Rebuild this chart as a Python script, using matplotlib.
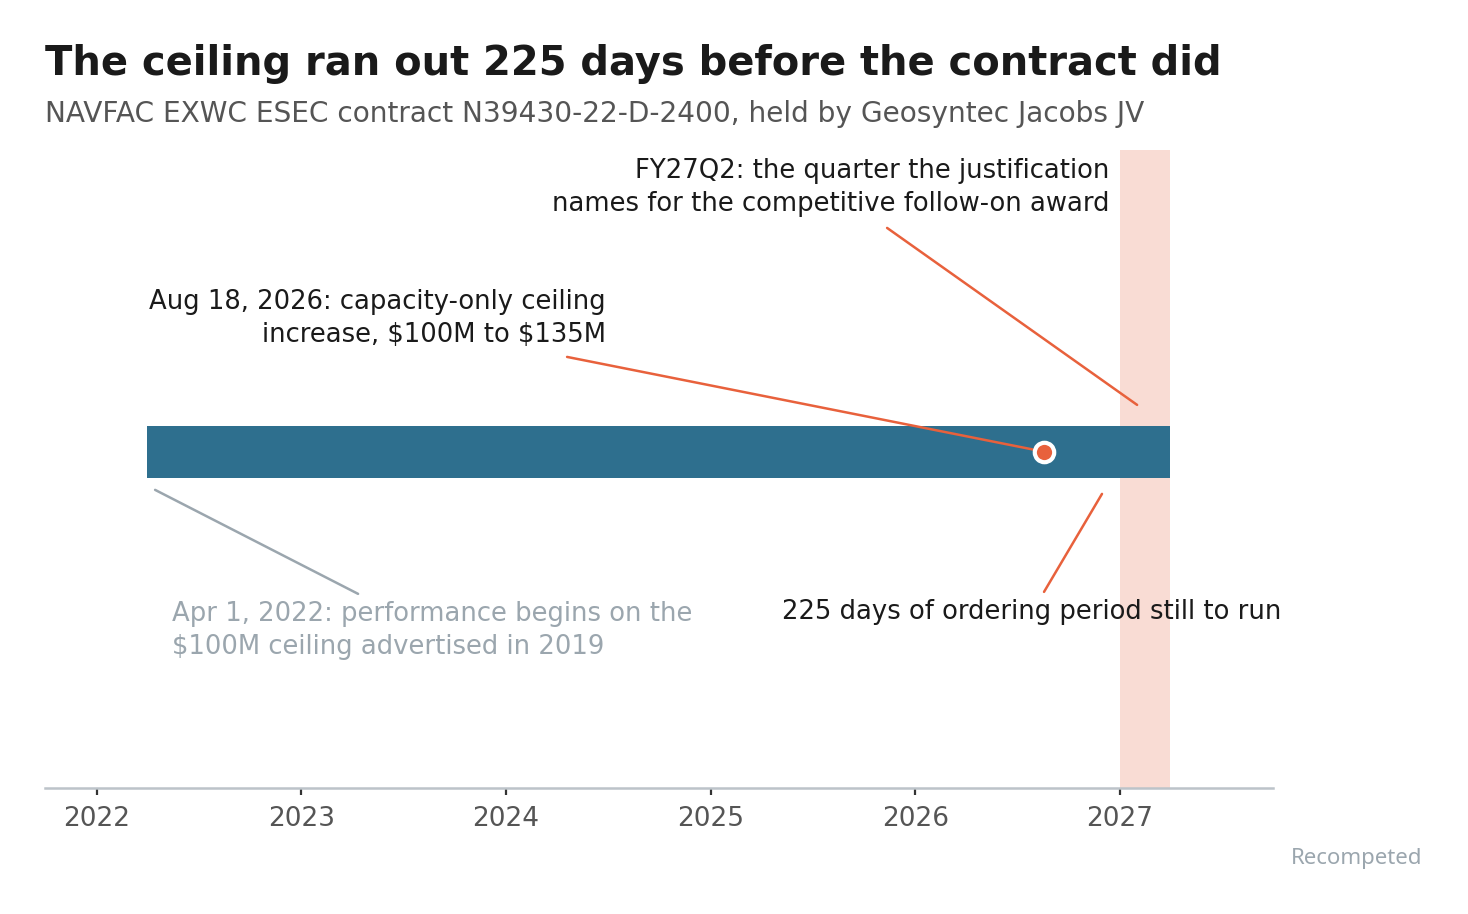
import datetime as dt
import matplotlib
matplotlib.use('Agg')
import matplotlib.pyplot as plt
import matplotlib.dates as mdates

plt.rcParams['font.family'] = ['DejaVu Sans']

# contract timeline
perf_start = dt.date(2022, 4, 1)
ceiling_hit = dt.date(2026, 8, 18)
order_end = dt.date(2027, 3, 31)
fy27q2 = (dt.date(2027, 1, 1), dt.date(2027, 3, 31))
days_left = (order_end - ceiling_hit).days
years = [2022, 2023, 2024, 2025, 2026, 2027]

blue = '#2e6f8e'
orange = '#e8613c'
pink = '#f9dcd4'
gray = '#9ba6ae'

fig = plt.figure(figsize=(7.34, 4.57), dpi=200)
ax = fig.add_axes([0.0307, 0.138, 0.8365, 0.698])

ax.axvspan(fy27q2[0], fy27q2[1], color=pink, lw=0, zorder=1)
ax.barh(0.527, mdates.date2num(order_end) - mdates.date2num(perf_start),
        left=mdates.date2num(perf_start), height=0.0815, color=blue, zorder=2)
ax.plot([ceiling_hit], [0.527], 'o', ms=7, color=orange, mec='white', mew=1.5, zorder=4)

ax.set_xlim(dt.date(2021, 10, 1), dt.date(2027, 10, 1))
ax.set_ylim(0, 1)
ax.set_xticks([dt.date(y, 1, 1) for y in years])
ax.set_xticklabels([str(y) for y in years])
ax.tick_params(axis='x', length=2.5, width=0.8, color='#333333', pad=4,
               labelsize=9.5, labelcolor='#555555')
ax.set_yticks([])
for s in ['top', 'left', 'right']:
    ax.spines[s].set_visible(False)
ax.spines['bottom'].set_color('#bcc3c9')
ax.spines['bottom'].set_linewidth(0.9)

line_kw = dict(arrowstyle='-', lw=0.9, shrinkA=0, shrinkB=0)
fs = 9.3
ls = 1.34

ax.text(0.867, 0.941, 'FY27Q2: the quarter the justification\nnames for the competitive follow-on award',
        transform=ax.transAxes, ha='right', va='center', fontsize=fs, color='#1a1a1a',
        linespacing=ls)
ax.annotate('', xy=(0.8893, 0.6003), xytext=(0.6857, 0.8777), xycoords='axes fraction',
            arrowprops=dict(color=orange, **line_kw))

ax.text(0.4568, 0.736, f'{ceiling_hit.strftime("%b")} {ceiling_hit.day}, {ceiling_hit.year}: capacity-only ceiling\nincrease, \\$100M to \\$135M',
        transform=ax.transAxes, ha='right', va='center', fontsize=fs, color='#1a1a1a',
        linespacing=ls)
ax.annotate('', xy=(mdates.date2num(ceiling_hit), 0.527), xytext=(0.4251, 0.6755),
            xycoords='data', textcoords='axes fraction',
            arrowprops=dict(color=orange, arrowstyle='-', lw=0.9, shrinkA=0, shrinkB=4))

ax.text(0.1034, 0.247, 'Apr 1, 2022: performance begins on the\n\\$100M ceiling advertised in 2019',
        transform=ax.transAxes, ha='left', va='center', fontsize=fs, color=gray,
        linespacing=ls)
ax.annotate('', xy=(0.0896, 0.4671), xytext=(0.2549, 0.3041), xycoords='axes fraction',
            arrowprops=dict(color=gray, **line_kw))

ax.text(0.8033, 0.276, f'{days_left} days of ordering period still to run',
        transform=ax.transAxes, ha='center', va='center', fontsize=fs, color='#1a1a1a')
ax.annotate('', xy=(0.8607, 0.4608), xytext=(0.8135, 0.3072), xycoords='axes fraction',
            arrowprops=dict(color=orange, **line_kw))

fig.text(0.0307, 0.918, f'The ceiling ran out {days_left} days before the contract did',
         fontsize=14.4, fontweight='bold', color='#1a1a1a', ha='left', va='baseline')
fig.text(0.0307, 0.866, 'NAVFAC EXWC ESEC contract N39430-22-D-2400, held by Geosyntec Jacobs JV',
         fontsize=10.1, color='#555555', ha='left', va='baseline')
fig.text(0.9687, 0.0547, 'Recompeted', fontsize=8, color=gray, ha='right', va='baseline',
         family=['Noto Sans', 'DejaVu Sans'])

fig.savefig('out.png', dpi=200)
